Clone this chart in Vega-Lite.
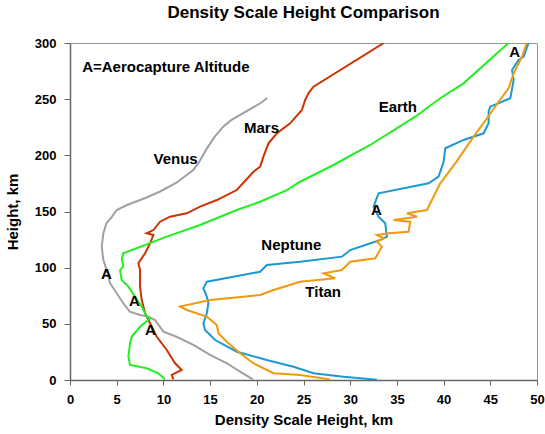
{
  "$schema": "https://vega.github.io/schema/vega-lite/v6.json",
  "width": 467,
  "height": 337,
  "autosize": {"type": "none"},
  "padding": {"left": 70, "top": 43, "right": 8, "bottom": 54},
  "background": "white",
  "config": {
    "font": "Liberation Sans",
    "view": {"stroke": "#999999", "strokeWidth": 1},
    "axis": {"grid": false, "labelFont": "Liberation Sans", "labelFontWeight": "bold", "labelFontSize": 13, "labelColor": "black", "titleFont": "Liberation Sans", "titleFontWeight": "bold", "titleFontSize": 15, "titleColor": "black", "domainColor": "#666666", "tickColor": "#666666", "domainWidth": 1.5, "tickWidth": 1}
  },
  "title": {"text": "Density Scale Height Comparison", "font": "Liberation Sans", "fontSize": 17, "fontWeight": "bold", "color": "black", "offset": 15},
  "datasets": {
    "curves": [
      {"s":"Venus","i":1,"x":21.1,"y":251},{"s":"Venus","i":2,"x":20.5,"y":247},{"s":"Venus","i":3,"x":17.3,"y":231.5},{"s":"Venus","i":4,"x":16.4,"y":225.5},{"s":"Venus","i":5,"x":15.5,"y":216.6},{"s":"Venus","i":6,"x":14.65,"y":206},{"s":"Venus","i":7,"x":13.75,"y":193},{"s":"Venus","i":8,"x":13.2,"y":187},{"s":"Venus","i":9,"x":11.4,"y":175.6},{"s":"Venus","i":10,"x":9.6,"y":167.6},{"s":"Venus","i":11,"x":8.0,"y":161.8},{"s":"Venus","i":12,"x":6.1,"y":155.8},{"s":"Venus","i":13,"x":5.0,"y":151.3},{"s":"Venus","i":14,"x":4.5,"y":145.4},{"s":"Venus","i":15,"x":3.9,"y":139.5},{"s":"Venus","i":16,"x":3.57,"y":130.6},{"s":"Venus","i":17,"x":3.4,"y":118.7},{"s":"Venus","i":18,"x":3.57,"y":106.8},{"s":"Venus","i":19,"x":3.93,"y":97.9},{"s":"Venus","i":20,"x":4.3,"y":86},{"s":"Venus","i":21,"x":5.0,"y":77.2},{"s":"Venus","i":22,"x":5.7,"y":68.3},{"s":"Venus","i":23,"x":6.4,"y":60.8},{"s":"Venus","i":24,"x":7.5,"y":57.9},{"s":"Venus","i":25,"x":8.4,"y":56.4},{"s":"Venus","i":26,"x":9.1,"y":53.4},{"s":"Venus","i":27,"x":10.0,"y":43},{"s":"Venus","i":28,"x":11.4,"y":38.5},{"s":"Venus","i":29,"x":13.2,"y":31.2},{"s":"Venus","i":30,"x":15.0,"y":22.3},{"s":"Venus","i":31,"x":16.8,"y":14.9},{"s":"Venus","i":32,"x":18.2,"y":7.4},{"s":"Venus","i":33,"x":19.6,"y":0.5},
      {"s":"Mars","i":1,"x":33.6,"y":300},{"s":"Mars","i":2,"x":26.07,"y":261.1},{"s":"Mars","i":3,"x":25.53,"y":255.2},{"s":"Mars","i":4,"x":25.18,"y":249.3},{"s":"Mars","i":5,"x":24.83,"y":240.4},{"s":"Mars","i":6,"x":23.57,"y":228.5},{"s":"Mars","i":7,"x":22.15,"y":219.6},{"s":"Mars","i":8,"x":21.25,"y":210.7},{"s":"Mars","i":9,"x":20.71,"y":198.8},{"s":"Mars","i":10,"x":20.36,"y":189.9},{"s":"Mars","i":11,"x":19.64,"y":185.4},{"s":"Mars","i":12,"x":17.86,"y":169.1},{"s":"Mars","i":13,"x":15.72,"y":160.2},{"s":"Mars","i":14,"x":13.93,"y":154.3},{"s":"Mars","i":15,"x":12.5,"y":148.4},{"s":"Mars","i":16,"x":10.71,"y":145.4},{"s":"Mars","i":17,"x":9.64,"y":140.9},{"s":"Mars","i":18,"x":8.93,"y":133.5},{"s":"Mars","i":19,"x":8.21,"y":130.6},{"s":"Mars","i":20,"x":8.93,"y":129.1},{"s":"Mars","i":21,"x":8.57,"y":121.7},{"s":"Mars","i":22,"x":8.04,"y":112.8},{"s":"Mars","i":23,"x":7.32,"y":103.9},{"s":"Mars","i":24,"x":7.5,"y":97.9},{"s":"Mars","i":25,"x":7.5,"y":83.1},{"s":"Mars","i":26,"x":7.68,"y":71.2},{"s":"Mars","i":27,"x":8.04,"y":59.4},{"s":"Mars","i":28,"x":8.57,"y":50.5},{"s":"Mars","i":29,"x":9.29,"y":38.5},{"s":"Mars","i":30,"x":10.36,"y":26.7},{"s":"Mars","i":31,"x":11.25,"y":14.9},{"s":"Mars","i":32,"x":11.96,"y":8.9},{"s":"Mars","i":33,"x":10.89,"y":4.5},{"s":"Mars","i":34,"x":11.07,"y":0.5},
      {"s":"Earth","i":1,"x":46.96,"y":300},{"s":"Earth","i":2,"x":45.72,"y":290.8},{"s":"Earth","i":3,"x":42.14,"y":264.1},{"s":"Earth","i":4,"x":39.64,"y":250.8},{"s":"Earth","i":5,"x":36.97,"y":234.4},{"s":"Earth","i":6,"x":32.14,"y":209.2},{"s":"Earth","i":7,"x":28.21,"y":191.4},{"s":"Earth","i":8,"x":24.64,"y":176.5},{"s":"Earth","i":9,"x":23.22,"y":169.1},{"s":"Earth","i":10,"x":20.36,"y":158.7},{"s":"Earth","i":11,"x":17.86,"y":151.3},{"s":"Earth","i":12,"x":13.93,"y":138},{"s":"Earth","i":13,"x":10.36,"y":127.6},{"s":"Earth","i":14,"x":5.71,"y":112.8},{"s":"Earth","i":15,"x":5.54,"y":108.3},{"s":"Earth","i":16,"x":5.71,"y":100.9},{"s":"Earth","i":17,"x":5.36,"y":97.9},{"s":"Earth","i":18,"x":5.54,"y":89},{"s":"Earth","i":19,"x":6.25,"y":83.1},{"s":"Earth","i":20,"x":6.96,"y":74.2},{"s":"Earth","i":21,"x":7.68,"y":65.3},{"s":"Earth","i":22,"x":8.21,"y":56.4},{"s":"Earth","i":23,"x":8.57,"y":54.9},{"s":"Earth","i":24,"x":7.5,"y":47.4},{"s":"Earth","i":25,"x":6.61,"y":38.5},{"s":"Earth","i":26,"x":6.43,"y":32.7},{"s":"Earth","i":27,"x":6.25,"y":20.7},{"s":"Earth","i":28,"x":6.43,"y":13.4},{"s":"Earth","i":29,"x":8.21,"y":10.4},{"s":"Earth","i":30,"x":9.46,"y":6.0},{"s":"Earth","i":31,"x":10.18,"y":0.5},
      {"s":"Neptune","i":1,"x":49.1,"y":300},{"s":"Neptune","i":2,"x":48.57,"y":287.8},{"s":"Neptune","i":3,"x":48.03,"y":284.9},{"s":"Neptune","i":4,"x":47.33,"y":276},{"s":"Neptune","i":5,"x":47.5,"y":267.1},{"s":"Neptune","i":6,"x":47.14,"y":250.8},{"s":"Neptune","i":7,"x":45.0,"y":243.3},{"s":"Neptune","i":8,"x":44.82,"y":238.9},{"s":"Neptune","i":9,"x":44.82,"y":228.5},{"s":"Neptune","i":10,"x":44.28,"y":219.6},{"s":"Neptune","i":11,"x":42.14,"y":213.7},{"s":"Neptune","i":12,"x":40.18,"y":206.3},{"s":"Neptune","i":13,"x":40.0,"y":194.3},{"s":"Neptune","i":14,"x":39.46,"y":181},{"s":"Neptune","i":15,"x":38.39,"y":175.1},{"s":"Neptune","i":16,"x":33.03,"y":166.2},{"s":"Neptune","i":17,"x":32.5,"y":154.3},{"s":"Neptune","i":18,"x":33.03,"y":145.4},{"s":"Neptune","i":19,"x":33.75,"y":139.5},{"s":"Neptune","i":20,"x":33.93,"y":127.6},{"s":"Neptune","i":21,"x":33.21,"y":124.6},{"s":"Neptune","i":22,"x":30.0,"y":115.7},{"s":"Neptune","i":23,"x":29.11,"y":109.8},{"s":"Neptune","i":24,"x":24.64,"y":105.3},{"s":"Neptune","i":25,"x":21.07,"y":102.4},{"s":"Neptune","i":26,"x":20.36,"y":96.4},{"s":"Neptune","i":27,"x":14.65,"y":87.5},{"s":"Neptune","i":28,"x":14.28,"y":81.6},{"s":"Neptune","i":29,"x":14.65,"y":74.2},{"s":"Neptune","i":30,"x":14.82,"y":68.3},{"s":"Neptune","i":31,"x":14.65,"y":59.4},{"s":"Neptune","i":32,"x":14.28,"y":50.5},{"s":"Neptune","i":33,"x":14.46,"y":44.5},{"s":"Neptune","i":34,"x":15.54,"y":35.6},{"s":"Neptune","i":35,"x":17.86,"y":25.2},{"s":"Neptune","i":36,"x":21.07,"y":17.8},{"s":"Neptune","i":37,"x":23.93,"y":11.8},{"s":"Neptune","i":38,"x":26.07,"y":6.0},{"s":"Neptune","i":39,"x":29.28,"y":2.9},{"s":"Neptune","i":40,"x":32.86,"y":0.3},
      {"s":"Titan","i":1,"x":48.9,"y":300},{"s":"Titan","i":2,"x":48.4,"y":287.8},{"s":"Titan","i":3,"x":47.5,"y":273},{"s":"Titan","i":4,"x":46.96,"y":259.7},{"s":"Titan","i":5,"x":45.89,"y":247.7},{"s":"Titan","i":6,"x":44.65,"y":233},{"s":"Titan","i":7,"x":43.21,"y":216.6},{"s":"Titan","i":8,"x":41.25,"y":192.9},{"s":"Titan","i":9,"x":39.64,"y":175.1},{"s":"Titan","i":10,"x":38.21,"y":151.3},{"s":"Titan","i":11,"x":36.07,"y":148.4},{"s":"Titan","i":12,"x":37.14,"y":145.4},{"s":"Titan","i":13,"x":34.64,"y":142.4},{"s":"Titan","i":14,"x":36.43,"y":140.9},{"s":"Titan","i":15,"x":36.25,"y":132},{"s":"Titan","i":16,"x":34.1,"y":130.6},{"s":"Titan","i":17,"x":32.86,"y":129.1},{"s":"Titan","i":18,"x":33.57,"y":126.1},{"s":"Titan","i":19,"x":32.86,"y":123.1},{"s":"Titan","i":20,"x":33.39,"y":118.7},{"s":"Titan","i":21,"x":32.68,"y":108.3},{"s":"Titan","i":22,"x":30.0,"y":105.3},{"s":"Titan","i":23,"x":29.11,"y":97.9},{"s":"Titan","i":24,"x":27.14,"y":95},{"s":"Titan","i":25,"x":28.39,"y":90.5},{"s":"Titan","i":26,"x":24.64,"y":87.5},{"s":"Titan","i":27,"x":21.79,"y":80.1},{"s":"Titan","i":28,"x":20.36,"y":75.7},{"s":"Titan","i":29,"x":15.0,"y":71.2},{"s":"Titan","i":30,"x":11.79,"y":65.3},{"s":"Titan","i":31,"x":12.5,"y":62.3},{"s":"Titan","i":32,"x":14.65,"y":56.4},{"s":"Titan","i":33,"x":15.72,"y":49},{"s":"Titan","i":34,"x":15.89,"y":41.6},{"s":"Titan","i":35,"x":16.79,"y":34.1},{"s":"Titan","i":36,"x":18.21,"y":23.8},{"s":"Titan","i":37,"x":19.64,"y":14.9},{"s":"Titan","i":38,"x":21.79,"y":6.0},{"s":"Titan","i":39,"x":24.64,"y":4.5},{"s":"Titan","i":40,"x":27.86,"y":0.5}
    ],
    "labels": [
      {"t":"Venus","x":11.3,"y":197},
      {"t":"Mars","x":20.5,"y":224},
      {"t":"Earth","x":35.1,"y":243},
      {"t":"Neptune","x":23.7,"y":120.5},
      {"t":"Titan","x":27.1,"y":78.5},
      {"t":"A","x":3.9,"y":94},
      {"t":"A","x":6.9,"y":70},
      {"t":"A","x":8.6,"y":44.5},
      {"t":"A","x":32.8,"y":151},
      {"t":"A","x":47.6,"y":292}
    ],
    "note": [
      {"t":"A=Aerocapture Altitude","x":1.3,"y":279}
    ]
  },
  "layer": [
    {
      "data": {"name": "curves"},
      "mark": {"type": "line", "strokeWidth": 2, "clip": true},
      "encoding": {
        "x": {"field": "x", "type": "quantitative", "scale": {"domain": [0, 50], "nice": false}, "axis": {"title": "Density Scale Height, km", "values": [0,2.5,5,7.5,10,12.5,15,17.5,20,22.5,25,27.5,30,32.5,35,37.5,40,42.5,45,47.5,50], "labelExpr": "datum.value % 5 == 0 ? datum.value : ''", "tickSize": 5, "labelPadding": 8, "titlePadding": 6, "labelFlush": false}},
        "y": {"field": "y", "type": "quantitative", "scale": {"domain": [0, 300], "nice": false}, "axis": {"title": "Height, km", "values": [0,25,50,75,100,125,150,175,200,225,250,275,300], "labelExpr": "datum.value % 50 == 0 ? datum.value : ''", "tickSize": 6, "labelPadding": 8, "titlePadding": 14, "labelFlush": false}},
        "color": {"field": "s", "type": "nominal", "legend": null, "scale": {"domain": ["Venus","Mars","Earth","Neptune","Titan"], "range": ["#a0a0a0","#cc3300","#22ee22","#1a99d6","#ee9a10"]}},
        "order": {"field": "i", "type": "quantitative"},
        "detail": {"field": "s"}
      }
    },
    {
      "data": {"name": "labels"},
      "mark": {"type": "text", "font": "Liberation Sans", "fontWeight": "bold", "fontSize": 15, "color": "black", "baseline": "middle", "align": "center"},
      "encoding": {
        "x": {"field": "x", "type": "quantitative"},
        "y": {"field": "y", "type": "quantitative"},
        "text": {"field": "t"}
      }
    },
    {
      "data": {"name": "note"},
      "mark": {"type": "text", "font": "Liberation Sans", "fontWeight": "bold", "fontSize": 15, "color": "black", "baseline": "middle", "align": "left"},
      "encoding": {
        "x": {"field": "x", "type": "quantitative"},
        "y": {"field": "y", "type": "quantitative"},
        "text": {"field": "t"}
      }
    }
  ]
}
